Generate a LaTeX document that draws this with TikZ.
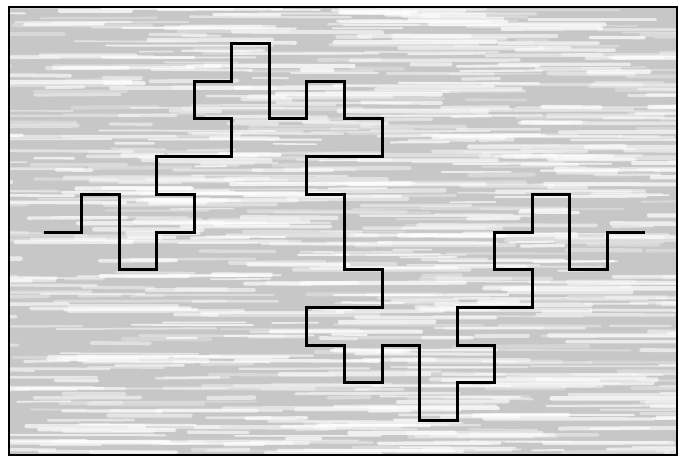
\documentclass[tikz,border=0pt]{standalone}
\begin{document}
\begin{tikzpicture}[x=1pt,y=1pt,
  frame/.style={draw=black,line width=2.4pt},
  curve/.style={draw=black,line width=3pt,line join=miter,line cap=butt},
  streak/.style={draw=white,line cap=round}]
\useasboundingbox (0,0) rectangle (685,-456);
\fill[white] (0,0) rectangle (685,-456);
\fill[black!22] (9,-7) rectangle (677,-455);
\begin{scope}
\clip (9,-7) rectangle (677,-455);
\pgfmathsetseed{42}
\foreach \k in {1,...,750}{
  \pgfmathsetmacro{\sx}{9+rnd*720-60}
  \pgfmathsetmacro{\sy}{-7-rnd*450}
  \pgfmathsetmacro{\sl}{30+rnd*150}
  \pgfmathsetmacro{\sw}{1.5+rnd*3}
  \pgfmathsetmacro{\so}{0.25+rnd*0.5}
  \draw[streak,line width=\sw pt,opacity=\so] (\sx,\sy) -- ++(\sl,rnd*1.5-0.75);
}
\end{scope}
\draw[frame] (9,-7) rectangle (677,-455);
\begin{scope}[shift={(44,-232)},x=37.56pt,y=37.7pt]
\draw[curve] (0,0) -- (1,0) -- (1,1) -- (2,1) -- (2,-1) -- (3,-1) -- (3,0) -- (4,0)
 -- (4,1) -- (3,1) -- (3,2) -- (5,2) -- (5,3) -- (4,3) -- (4,4) -- (5,4) -- (5,5)
 -- (6,5) -- (6,3) -- (7,3) -- (7,4) -- (8,4) -- (8,3) -- (9,3) -- (9,2) -- (7,2)
 -- (7,1) -- (8,1) -- (8,-1) -- (9,-1) -- (9,-2) -- (7,-2) -- (7,-3) -- (8,-3)
 -- (8,-4) -- (9,-4) -- (9,-3) -- (10,-3) -- (10,-5) -- (11,-5) -- (11,-4) -- (12,-4)
 -- (12,-3) -- (11,-3) -- (11,-2) -- (13,-2) -- (13,-1) -- (12,-1) -- (12,0) -- (13,0)
 -- (13,1) -- (14,1) -- (14,-1) -- (15,-1) -- (15,0) -- (16,0);
\end{scope}
\end{tikzpicture}
\end{document}
